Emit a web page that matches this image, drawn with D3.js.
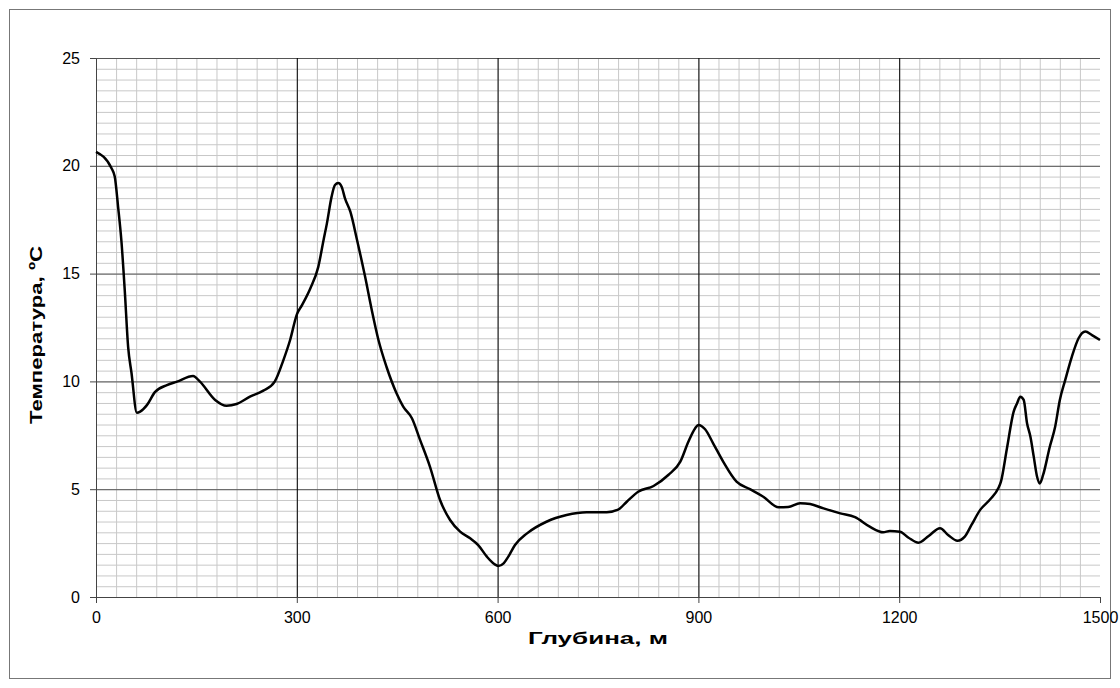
<!DOCTYPE html>
<html>
<head>
<meta charset="utf-8">
<script src="https://cdn.jsdelivr.net/npm/d3@7"></script>
<style>
  body { margin: 0; background: #fff; }
  svg { font-family: Arial, "Liberation Sans", sans-serif; }
  .minor line { stroke: #c8c8c8; stroke-width: 1; }
  .minor path { display: none; }
  .majorY line { stroke: #555; stroke-width: 1; }
  .majorX line { stroke: #000; stroke-width: 1; }
  .majorY path, .majorX path { display: none; }
  .axis path, .axis line { stroke: #444; }
  .axis text { font-family: Arial, "Liberation Sans", sans-serif; font-size: 16px; fill: #000; }
</style>
</head>
<body>
<div id="chart"></div>
<script>
// Chart params
var svgWidth = 1120;
var svgHeight = 688;

var margin = { top: 58, right: 20, bottom: 91, left: 96 };
var chartWidth = 1100 - margin.left;
var chartHeight = 597 - margin.top;

// Data: depth (m) and temperature (ºC)
var depth = [0, 23, 28, 33, 38, 43, 48, 53, 61, 66, 76, 88, 106, 121, 145, 155, 178, 195, 210,
  230, 250, 267, 280, 290, 300, 308, 320, 332, 340, 345, 352, 357, 362, 367, 372, 380, 390,
  402, 412, 422, 434, 449, 459, 472, 484, 499, 514, 529, 544, 559, 571, 584, 595, 601, 609,
  616, 626, 644, 673, 703, 733, 763, 780, 793, 810, 833, 855, 873, 885, 895, 900, 910, 922,
  937, 957, 977, 997, 1020, 1034, 1052, 1067, 1087, 1112, 1134, 1156, 1176, 1186, 1201,
  1214, 1229, 1244, 1261, 1273, 1287, 1298, 1308, 1321, 1336, 1348, 1352, 1361, 1371,
  1376, 1381, 1386, 1391, 1396, 1401, 1406, 1410, 1415, 1425, 1433, 1440, 1448, 1458,
  1468, 1478, 1488, 1500];
var temperature = [20.65, 19.9, 19.5, 18.1, 16.5, 14.2, 11.6, 10.4, 8.55, 8.6, 8.9, 9.5, 9.83,
  9.99, 10.25, 10.0, 9.14, 8.87, 8.95, 9.29, 9.57, 9.99, 10.99, 11.92, 13.1, 13.55, 14.3,
  15.3, 16.56, 17.33, 18.57, 19.11, 19.2, 19.03, 18.49, 17.87, 16.56, 14.86, 13.31, 11.92,
  10.68, 9.45, 8.83, 8.29, 7.3, 6.04, 4.5, 3.57, 3.03, 2.72, 2.41, 1.87, 1.53, 1.44, 1.56,
  1.87, 2.41, 2.95, 3.49, 3.8, 3.93, 3.93, 4.05, 4.42, 4.88, 5.15, 5.66, 6.28, 7.2, 7.82,
  7.98, 7.78, 7.13, 6.28, 5.35, 5.0, 4.65, 4.16, 4.17, 4.35, 4.31, 4.11, 3.88, 3.7, 3.26,
  3.0, 3.06, 3.03, 2.75, 2.52, 2.83, 3.19, 2.88, 2.61, 2.8, 3.34, 4.04, 4.53, 5.04, 5.35,
  6.9, 8.6, 8.98, 9.29, 9.14, 8.06, 7.44, 6.51, 5.58, 5.27, 5.66, 6.97, 7.9, 9.14, 10.06,
  11.15, 12.0, 12.31, 12.15, 11.92];

var xTicks = [0, 300, 600, 900, 1200, 1500];
var yTicks = [0, 5, 10, 15, 20, 25];

var data = depth.map((d, i) => ({ depth: d, temp: temperature[i] }));

var svg = d3.select("#chart")
  .append("svg")
  .attr("width", svgWidth)
  .attr("height", svgHeight);

// outer frame
svg.append("rect")
  .attr("x", 9.5)
  .attr("y", 9.5)
  .attr("width", 1101)
  .attr("height", 669)
  .attr("fill", "#fff")
  .attr("stroke", "#777");

var chartGroup = svg.append("g")
  .attr("transform", `translate(${margin.left}, ${margin.top})`);

var xScale = d3.scaleLinear().domain([0, 1500]).range([0, chartWidth]);
var yScale = d3.scaleLinear().domain([0, 25]).range([chartHeight, 0]);

// minor grid
chartGroup.append("g")
  .attr("class", "minor")
  .attr("transform", `translate(0, ${chartHeight})`)
  .call(d3.axisBottom(xScale).tickValues(d3.range(30, 1500, 30)).tickSize(-chartHeight).tickFormat(""));
chartGroup.append("g")
  .attr("class", "minor")
  .call(d3.axisLeft(yScale).tickValues(d3.range(0.5, 25.01, 0.5)).tickSize(-chartWidth).tickFormat(""));

// major grid
chartGroup.append("g")
  .attr("class", "majorY")
  .call(d3.axisLeft(yScale).tickValues(yTicks.slice(1)).tickSize(-chartWidth).tickFormat(""));
chartGroup.append("g")
  .attr("class", "majorX")
  .attr("transform", `translate(0, ${chartHeight})`)
  .call(d3.axisBottom(xScale).tickValues(xTicks.slice(1, -1)).tickSize(-chartHeight).tickFormat(""));

// axes
chartGroup.append("g")
  .attr("class", "axis")
  .attr("transform", `translate(0, ${chartHeight})`)
  .call(d3.axisBottom(xScale).tickValues(xTicks).tickFormat(d3.format("d"))
    .tickSize(6).tickSizeOuter(0).tickPadding(9));
chartGroup.append("g")
  .attr("class", "axis")
  .call(d3.axisLeft(yScale).tickValues(yTicks).tickFormat(d3.format("d"))
    .tickSize(6).tickSizeOuter(0).tickPadding(10));

// curve
var line = d3.line()
  .x(d => xScale(d.depth))
  .y(d => yScale(d.temp))
  .curve(d3.curveMonotoneX);

chartGroup.append("path")
  .datum(data)
  .attr("fill", "none")
  .attr("stroke", "#000")
  .attr("stroke-width", 2.5)
  .attr("stroke-linejoin", "round")
  .attr("d", line);

// axis titles
svg.append("text")
  .attr("x", margin.left + chartWidth / 2)
  .attr("y", 644)
  .attr("text-anchor", "middle")
  .attr("font-size", 17)
  .attr("font-weight", "bold")
  .attr("textLength", 140)
  .attr("lengthAdjust", "spacingAndGlyphs")
  .text("Глубина, м");

svg.append("text")
  .attr("transform", "translate(42, 335) rotate(-90)")
  .attr("text-anchor", "middle")
  .attr("font-size", 17)
  .attr("font-weight", "bold")
  .attr("textLength", 178)
  .attr("lengthAdjust", "spacingAndGlyphs")
  .text("Температура, ºC");
</script>
</body>
</html>
